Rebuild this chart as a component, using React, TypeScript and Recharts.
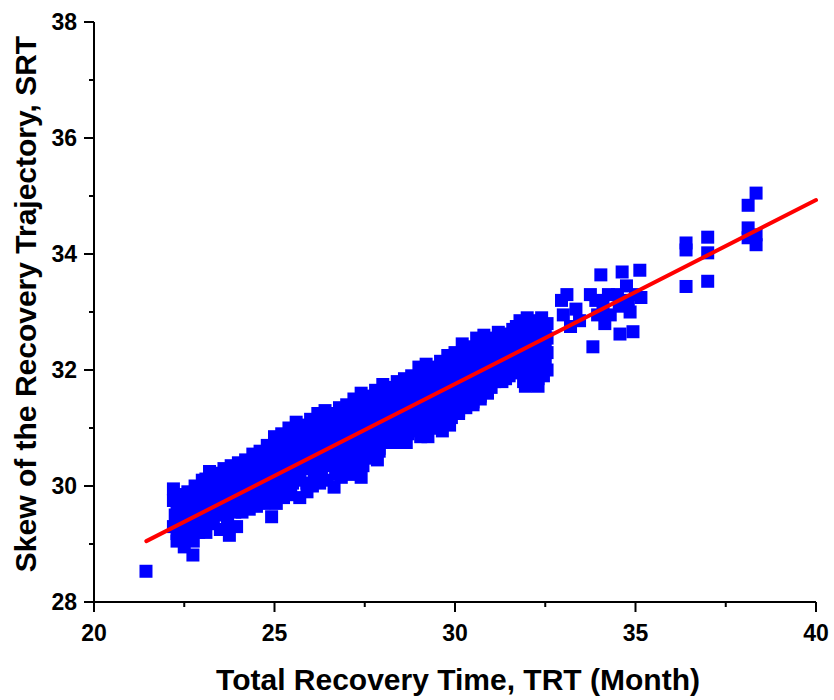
// Scatter of SRT vs TRT with linear fit
import React from 'react';
import { ScatterChart, Scatter, XAxis, YAxis, Label } from 'recharts';

// [TRT, SRT] pairs, grouped by region
const lowerBand: [number, number][] = [
  [21.44, 28.53],
  [22.2, 29.95], [22.2, 29.75], [22.25, 29.5], [22.2, 29.3], [22.3, 29.05],
  [22.4, 29.85], [22.45, 29.6], [22.47, 29.41], [22.4, 29.15], [22.5, 28.95],
  [22.6, 29.9], [22.6, 29.7], [22.65, 29.45], [22.6, 29.25],
  [22.8, 30.0], [22.8, 29.75], [22.85, 29.55], [22.8, 29.3], [22.75, 29.05], [22.74, 28.81],
  [23.0, 30.1], [23.0, 29.9], [23.05, 29.6], [23.0, 29.4], [23.1, 29.2],
  [23.2, 30.25], [23.2, 30.0], [23.25, 29.8], [23.2, 29.55], [23.3, 29.35],
  [23.4, 30.2], [23.4, 29.95], [23.45, 29.7], [23.4, 29.5], [23.5, 29.25],
  [23.6, 30.3], [23.6, 30.05], [23.65, 29.85], [23.6, 29.6], [23.7, 29.35], [23.75, 29.15],
  [23.8, 30.35], [23.8, 30.1], [23.85, 29.9], [23.8, 29.65], [23.95, 29.3],
  [24.0, 30.4], [24.0, 30.15], [24.05, 29.95], [24.0, 29.75], [24.1, 29.55],
  [24.2, 30.45], [24.2, 30.2], [24.25, 30.0], [24.2, 29.8], [24.3, 29.6],
  [24.4, 30.55], [24.4, 30.3], [24.45, 30.05], [24.4, 29.85], [24.5, 29.65],
  [24.6, 30.6], [24.6, 30.35], [24.65, 30.15], [24.6, 29.9], [24.7, 29.7], [24.92, 29.47],
  [24.8, 30.7], [24.8, 30.45], [24.85, 30.2], [24.8, 30.0], [24.9, 29.8],
];

const middleBand: [number, number][] = [
  [25.0, 30.85], [25.0, 30.6], [25.05, 30.35], [25.0, 30.1], [25.1, 29.9], [25.05, 29.7],
  [25.2, 30.9], [25.2, 30.65], [25.25, 30.4], [25.2, 30.2], [25.3, 29.95], [25.25, 29.8],
  [25.4, 31.0], [25.4, 30.75], [25.45, 30.5], [25.4, 30.3], [25.5, 30.05], [25.45, 29.85],
  [25.6, 31.1], [25.6, 30.85], [25.65, 30.6], [25.6, 30.35], [25.7, 30.1], [25.7, 29.8],
  [25.8, 31.05], [25.8, 30.8], [25.85, 30.55], [25.8, 30.3], [25.9, 30.05], [25.9, 29.9],
  [26.0, 31.15], [26.0, 30.9], [26.05, 30.7], [26.0, 30.45], [26.1, 30.2], [26.05, 30.0],
  [26.2, 31.25], [26.2, 31.0], [26.25, 30.75], [26.2, 30.5], [26.3, 30.25], [26.25, 30.05],
  [26.4, 31.3], [26.4, 31.05], [26.45, 30.8], [26.4, 30.55], [26.5, 30.35], [26.45, 30.1],
  [26.6, 31.2], [26.6, 30.95], [26.65, 30.7], [26.6, 30.45], [26.7, 30.2], [26.65, 29.98],
  [26.8, 31.35], [26.8, 31.1], [26.85, 30.85], [26.8, 30.6], [26.9, 30.4], [26.85, 30.15],
  [27.0, 31.4], [27.0, 31.15], [27.05, 30.9], [27.0, 30.65], [27.1, 30.45], [27.05, 30.2],
  [27.2, 31.5], [27.2, 31.25], [27.25, 31.0], [27.2, 30.75], [27.3, 30.5], [27.25, 30.25],
  [27.4, 31.6], [27.4, 31.35], [27.45, 31.1], [27.4, 30.85], [27.5, 30.6], [27.45, 30.35], [27.4, 30.15],
  [27.6, 31.55], [27.6, 31.3], [27.65, 31.05], [27.6, 30.8], [27.7, 30.55],
  [27.8, 31.65], [27.8, 31.4], [27.85, 31.15], [27.8, 30.9], [27.9, 30.65], [27.85, 30.45],
  [28.0, 31.75], [28.0, 31.5], [28.05, 31.25], [28.0, 31.0], [28.1, 30.75],
  [28.2, 31.7], [28.2, 31.45], [28.25, 31.2], [28.2, 30.95], [28.3, 30.75],
  [28.4, 31.8], [28.4, 31.55], [28.45, 31.3], [28.4, 31.05], [28.5, 30.85],
  [28.6, 31.85], [28.6, 31.6], [28.65, 31.35], [28.6, 31.1], [28.7, 30.9], [28.65, 30.75],
  [28.8, 31.9], [28.8, 31.65], [28.85, 31.4], [28.8, 31.15], [28.9, 30.95],
];

const upperBand: [number, number][] = [
  [29.0, 32.05], [29.0, 31.8], [29.05, 31.55], [29.0, 31.3], [29.1, 31.05], [29.05, 30.85],
  [29.2, 32.1], [29.2, 31.85], [29.25, 31.6], [29.2, 31.35], [29.3, 31.1], [29.25, 30.85],
  [29.4, 32.0], [29.4, 31.75], [29.45, 31.5], [29.4, 31.25], [29.5, 31.0],
  [29.6, 32.15], [29.6, 31.9], [29.65, 31.65], [29.6, 31.4], [29.7, 31.15], [29.65, 30.95],
  [29.8, 32.25], [29.8, 32.0], [29.85, 31.75], [29.8, 31.5], [29.9, 31.25], [29.85, 31.05],
  [30.0, 32.3], [30.0, 32.05], [30.05, 31.8], [30.0, 31.55], [30.1, 31.3],
  [30.2, 32.45], [30.2, 32.2], [30.25, 31.95], [30.2, 31.7], [30.3, 31.45],
  [30.4, 32.35], [30.4, 32.1], [30.45, 31.85], [30.4, 31.6], [30.5, 31.4],
  [30.6, 32.55], [30.6, 32.3], [30.65, 32.05], [30.6, 31.8], [30.7, 31.55],
  [30.8, 32.6], [30.8, 32.35], [30.85, 32.1], [30.8, 31.85], [30.9, 31.6],
  [31.0, 32.45], [31.0, 32.2], [31.05, 31.95], [31.0, 31.7],
  [31.2, 32.65], [31.2, 32.4], [31.25, 32.15], [31.2, 31.9],
  [31.4, 32.6], [31.4, 32.35], [31.45, 32.1], [31.4, 31.85],
  [31.6, 32.7], [31.6, 32.45], [31.65, 32.2], [31.6, 31.95],
  [31.8, 32.85], [31.8, 32.6], [31.85, 32.35], [31.8, 32.1], [31.9, 31.8],
  [32.0, 32.9], [32.0, 32.65], [32.05, 32.4], [32.0, 32.15], [32.1, 31.95],
  [32.2, 32.85], [32.2, 32.6], [32.25, 32.35], [32.2, 32.1], [32.3, 31.85],
  [32.4, 32.9], [32.4, 32.65], [32.45, 32.4], [32.4, 32.15], [32.45, 31.9],
  [32.55, 32.8], [32.55, 32.55], [32.55, 32.3], [32.55, 32.0],
  [31.95, 31.72], [32.15, 31.75], [32.3, 31.72],
];

// points filling the inside of the dense band
const bandFill: [number, number][] = [
  [22.3, 29.85], [22.3, 29.62], [22.3, 29.4], [22.3, 29.18],
  [22.5, 29.78], [22.5, 29.52], [22.5, 29.28],
  [22.7, 29.88], [22.7, 29.62], [22.7, 29.38], [22.7, 29.15],
  [22.9, 29.95], [22.9, 29.68], [22.9, 29.45], [22.9, 29.2],
  [23.1, 30.12], [23.1, 29.85], [23.1, 29.65], [23.1, 29.45],
  [23.3, 30.1], [23.3, 29.88], [23.3, 29.65], [23.3, 29.42],
  [23.5, 30.22], [23.5, 29.98], [23.5, 29.75], [23.5, 29.52],
  [23.7, 30.2], [23.7, 29.98], [23.7, 29.72], [23.7, 29.48],
  [23.9, 30.25], [23.9, 30.02], [23.9, 29.8], [23.9, 29.55],
  [24.1, 30.32], [24.1, 30.08], [24.1, 29.85], [24.1, 29.65],
  [24.3, 30.4], [24.3, 30.15], [24.3, 29.92], [24.3, 29.72],
  [24.5, 30.45], [24.5, 30.22], [24.5, 29.98], [24.5, 29.78],
  [24.7, 30.55], [24.7, 30.3], [24.7, 30.08], [24.7, 29.85],
  [24.9, 30.65], [24.9, 30.4], [24.9, 30.12], [24.9, 29.92],
  [25.1, 30.75], [25.1, 30.5], [25.1, 30.25], [25.1, 30.02],
  [25.3, 30.82], [25.3, 30.58], [25.3, 30.32], [25.3, 30.1],
  [25.5, 30.92], [25.5, 30.68], [25.5, 30.42], [25.5, 30.18],
  [25.7, 30.98], [25.7, 30.72], [25.7, 30.48], [25.7, 30.22],
  [25.9, 31.02], [25.9, 30.78], [25.9, 30.55], [25.9, 30.3],
  [26.1, 31.1], [26.1, 30.85], [26.1, 30.6], [26.1, 30.35],
  [26.3, 31.15], [26.3, 30.9], [26.3, 30.65], [26.3, 30.4],
  [26.5, 31.18], [26.5, 30.92], [26.5, 30.68], [26.5, 30.45],
  [26.7, 31.25], [26.7, 31.0], [26.7, 30.78], [26.7, 30.55], [26.7, 30.3],
  [26.9, 31.3], [26.9, 31.05], [26.9, 30.8], [26.9, 30.55], [26.9, 30.3],
  [27.1, 31.32], [27.1, 31.08], [27.1, 30.82], [27.1, 30.58], [27.1, 30.35],
  [27.3, 31.45], [27.3, 31.2], [27.3, 30.95], [27.3, 30.7], [27.3, 30.42],
  [27.5, 31.48], [27.5, 31.22], [27.5, 30.98], [27.5, 30.72], [27.5, 30.48],
  [27.7, 31.5], [27.7, 31.25], [27.7, 31.0], [27.7, 30.75], [27.7, 30.5],
  [27.9, 31.6], [27.9, 31.35], [27.9, 31.1], [27.9, 30.85], [27.9, 30.6],
  [28.1, 31.62], [28.1, 31.38], [28.1, 31.12], [28.1, 30.88],
  [28.3, 31.65], [28.3, 31.4], [28.3, 31.15], [28.3, 30.9],
  [28.5, 31.72], [28.5, 31.48], [28.5, 31.22], [28.5, 30.98],
  [28.7, 31.78], [28.7, 31.52], [28.7, 31.28], [28.7, 31.02],
  [28.9, 31.85], [28.9, 31.6], [28.9, 31.35], [28.9, 31.1],
  [29.1, 31.95], [29.1, 31.7], [29.1, 31.45], [29.1, 31.2], [29.1, 30.95],
  [29.3, 31.98], [29.3, 31.72], [29.3, 31.48], [29.3, 31.22], [29.3, 31.0],
  [29.5, 32.05], [29.5, 31.8], [29.5, 31.58], [29.5, 31.32], [29.5, 31.08],
  [29.7, 32.1], [29.7, 31.85], [29.7, 31.6], [29.7, 31.35], [29.7, 31.1],
  [29.9, 32.18], [29.9, 31.92], [29.9, 31.68], [29.9, 31.42], [29.9, 31.18],
  [30.1, 32.25], [30.1, 32.0], [30.1, 31.75], [30.1, 31.5], [30.1, 31.25],
  [30.3, 32.3], [30.3, 32.05], [30.3, 31.82], [30.3, 31.58], [30.3, 31.35],
  [30.5, 32.4], [30.5, 32.15], [30.5, 31.92], [30.5, 31.68], [30.5, 31.45],
  [30.7, 32.45], [30.7, 32.2], [30.7, 31.98], [30.7, 31.72], [30.7, 31.5],
  [30.9, 32.52], [30.9, 32.28], [30.9, 32.02], [30.9, 31.78],
  [31.1, 32.55], [31.1, 32.3], [31.1, 32.05], [31.1, 31.8],
  [31.3, 32.55], [31.3, 32.3], [31.3, 32.05], [31.3, 31.8],
  [31.5, 32.62], [31.5, 32.38], [31.5, 32.15], [31.5, 31.9],
  [31.7, 32.75], [31.7, 32.5], [31.7, 32.25], [31.7, 32.02],
  [31.9, 32.78], [31.9, 32.52], [31.9, 32.28], [31.9, 32.0],
  [32.1, 32.8], [32.1, 32.55], [32.1, 32.3], [32.1, 32.05],
  [32.3, 32.78], [32.3, 32.52], [32.3, 32.25], [32.3, 32.0],
  [32.5, 32.7], [32.5, 32.45], [32.5, 32.2],
];

const rightTail: [number, number][] = [
  [32.95, 33.2], [33.0, 32.95], [33.1, 33.3], [33.2, 32.75], [33.35, 33.05], [33.45, 32.85],
  [33.75, 33.3], [33.82, 32.4], [33.9, 33.2], [33.95, 32.95], [34.04, 33.64], [34.1, 33.1],
  [34.15, 32.8], [34.25, 33.3], [34.3, 32.95],
  [34.5, 33.3], [34.55, 33.1], [34.57, 32.62], [34.63, 33.69], [34.75, 33.45], [34.8, 33.2],
  [34.85, 33.0], [34.93, 32.66], [35.0, 33.3], [35.12, 33.72], [35.15, 33.25],
  [36.4, 34.19], [36.4, 34.07], [36.4, 33.44],
  [37.0, 34.29], [37.0, 34.02], [37.0, 33.53],
  [38.12, 34.84], [38.12, 34.45], [38.12, 34.28],
  [38.34, 35.05], [38.34, 34.33], [38.34, 34.16],
];

// linear fit end points
const fitLine: [number, number][] = [
  [21.45, 29.05],
  [40, 34.93],
];

const xTicks = [20, 22.5, 25, 27.5, 30, 32.5, 35, 37.5, 40];
const yTicks = [28, 29, 30, 31, 32, 33, 34, 35, 36, 37, 38];

const toPoints = (rows: [number, number][]) => rows.map(([trt, srt]) => ({ trt, srt }));
const scatterData = toPoints([...lowerBand, ...middleBand, ...upperBand, ...bandFill, ...rightTail]);
const fitData = toPoints(fitLine);

const FONT = '"Liberation Sans", Arial, sans-serif';

const XTick = ({ x, y, payload }: any) => {
  const major = payload.value % 5 === 0;
  return (
    <g>
      <line x1={x} x2={x} y1={y} y2={y + (major ? 10 : 5)} stroke="#000" strokeWidth={2} />
      {major && (
        <text x={x} y={y + 39} textAnchor="middle" fontFamily={FONT} fontWeight="bold" fontSize={23} fill="#000">
          {payload.value}
        </text>
      )}
    </g>
  );
};

const YTick = ({ x, y, payload }: any) => {
  const major = payload.value % 2 === 0;
  return (
    <g>
      <line x1={x} x2={x - (major ? 10 : 5)} y1={y} y2={y} stroke="#000" strokeWidth={2} />
      {major && (
        <text x={x - 17} y={y + 8} textAnchor="end" fontFamily={FONT} fontWeight="bold" fontSize={23} fill="#000">
          {payload.value}
        </text>
      )}
    </g>
  );
};

const SquareDot = (props: any) => (
  <rect x={props.cx - 6.5} y={props.cy - 6.5} width={13} height={13} fill="#0000FF" />
);

export default function App() {
  return (
    <div style={{ position: 'absolute', left: 0, top: 0, width: 834, height: 700, background: '#fff' }}>
      <ScatterChart width={834} height={700} margin={{ top: 22, right: 18, bottom: 0, left: 0 }}>
        <XAxis
          type="number"
          dataKey="trt"
          domain={[20, 40]}
          ticks={xTicks}
          interval={0}
          height={98}
          tickSize={0}
          tickMargin={0}
          tickLine={false}
          axisLine={{ stroke: '#000', strokeWidth: 2 }}
          tick={<XTick />}
        >
          <Label
            content={() => (
              <text x={458} y={690} textAnchor="middle" fontFamily={FONT} fontWeight="bold" fontSize={30} fill="#000">
                Total Recovery Time, TRT (Month)
              </text>
            )}
          />
        </XAxis>
        <YAxis
          type="number"
          dataKey="srt"
          domain={[28, 38]}
          ticks={yTicks}
          interval={0}
          width={94}
          tickSize={0}
          tickMargin={0}
          tickLine={false}
          axisLine={{ stroke: '#000', strokeWidth: 2 }}
          tick={<YTick />}
        >
          <Label
            content={() => (
              <text transform="translate(36,304) rotate(-90)" textAnchor="middle" fontFamily={FONT} fontWeight="bold" fontSize={30} fill="#000">
                Skew of the Recovery Trajectory, SRT
              </text>
            )}
          />
        </YAxis>
        <Scatter data={scatterData} shape={<SquareDot />} isAnimationActive={false} />
        <Scatter
          data={fitData}
          line={{ stroke: '#FF0000', strokeWidth: 4, strokeLinecap: 'round' }}
          shape={() => <g />}
          isAnimationActive={false}
        />
      </ScatterChart>
    </div>
  );
}
